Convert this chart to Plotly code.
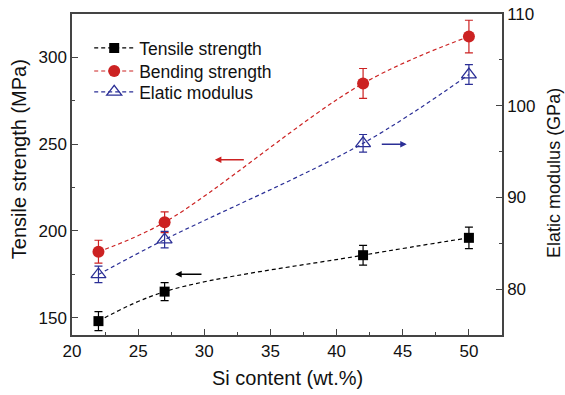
import plotly.graph_objects as go

si = [22, 27, 42, 50]
tensile = [148, 165, 186, 196]
tensile_err = [5.5, 5.2, 5.7, 6.2]
bending = [188, 205, 285, 312]
bending_err = [6.6, 6.0, 8.6, 9.4]
modulus = [81.6, 85.4, 95.9, 103.4]
modulus_err = [0.9, 0.9, 0.96, 1.07]

BLACK = "#000000"
RED = "#cc2222"
BLUE = "#2b2f96"
AX = "#444444"
FONT = "Liberation Sans, Arial, sans-serif"
DASH = "4px,3px"

fig = go.Figure()
fig.add_trace(go.Scatter(
    x=si, y=tensile, name="Tensile strength", mode="lines+markers", legend="legend",
    line=dict(color=BLACK, width=1.2, dash=DASH, shape="spline"),
    marker=dict(symbol="square", size=10, color=BLACK),
    error_y=dict(type="data", array=tensile_err, color=BLACK, thickness=1.2, width=4),
))
fig.add_trace(go.Scatter(
    x=si, y=bending, name="Bending strength", mode="lines+markers", legend="legend2",
    line=dict(color=RED, width=1.2, dash=DASH, shape="spline"),
    marker=dict(symbol="circle", size=12, color=RED),
    error_y=dict(type="data", array=bending_err, color=RED, thickness=1.2, width=4),
))
fig.add_trace(go.Scatter(
    x=si, y=modulus, name="Elatic modulus", mode="lines+markers", yaxis="y2", legend="legend3",
    line=dict(color=BLUE, width=1.2, dash=DASH, shape="spline"),
    marker=dict(symbol="triangle-up-open", size=13, color=BLUE, line=dict(width=1.3)),
    error_y=dict(type="data", array=modulus_err, color=BLUE, thickness=1.2, width=4),
))

# direction arrows (head, tail)
fig.add_annotation(x=30.8, y=241, xref="x", yref="y", ax=33.1, ay=241, axref="x", ayref="y",
                   showarrow=True, arrowhead=2, arrowsize=1, arrowwidth=1.3, arrowcolor=RED, text="")
fig.add_annotation(x=27.8, y=175, xref="x", yref="y", ax=29.9, ay=175, axref="x", ayref="y",
                   showarrow=True, arrowhead=2, arrowsize=1, arrowwidth=1.3, arrowcolor=BLACK, text="")
fig.add_annotation(x=45.3, y=95.8, xref="x", yref="y2", ax=43.3, ay=95.8, axref="x", ayref="y2",
                   showarrow=True, arrowhead=2, arrowsize=1, arrowwidth=1.3, arrowcolor=BLUE, text="")

# axis titles
fig.add_annotation(text="Tensile strength (MPa)", xref="paper", yref="paper", x=-0.123, y=0.548,
                   xanchor="center", yanchor="middle", textangle=-90, showarrow=False,
                   font=dict(size=20, color="#111111"))
fig.add_annotation(text="Elatic modulus (GPa)", xref="paper", yref="paper", x=1.121, y=0.505,
                   xanchor="center", yanchor="middle", textangle=-90, showarrow=False,
                   font=dict(size=18, color="#111111"))
fig.add_annotation(text="Si content (wt.%)", xref="paper", yref="paper", x=0.5, y=-0.134,
                   xanchor="center", yanchor="middle", showarrow=False,
                   font=dict(size=20, color="#111111"))

leg = dict(x=0.04, xanchor="left", yanchor="middle", bgcolor="rgba(0,0,0,0)",
           font=dict(size=17.5, color="#111111"), itemwidth=40)

fig.update_layout(
    width=565, height=395,
    margin=dict(l=72, r=63, t=14, b=60, autoexpand=False),
    paper_bgcolor="white", plot_bgcolor="white",
    font=dict(family=FONT, size=17, color="#111111"),
    showlegend=True,
    legend=dict(leg, y=0.894),
    legend2=dict(leg, y=0.822),
    legend3=dict(leg, y=0.757),
    xaxis=dict(
        range=[20, 52.5], tickvals=[20, 25, 30, 35, 40, 45, 50], automargin=False,
        ticks="inside", ticklen=6, tickwidth=1.2, tickcolor=AX,
        minor=dict(tickvals=[22.5, 27.5, 32.5, 37.5, 42.5, 47.5], ticks="inside", ticklen=3, tickcolor=AX),
        showline=True, linecolor=AX, linewidth=1.5, mirror=True,
        showgrid=False, zeroline=False,
    ),
    yaxis=dict(
        range=[140, 325], tickvals=[150, 200, 250, 300], automargin=False,
        ticks="inside", ticklen=6, tickwidth=1.2, tickcolor=AX,
        minor=dict(tickvals=[175, 225, 275], ticks="inside", ticklen=3, tickcolor=AX),
        showline=True, linecolor=AX, linewidth=1.5,
        showgrid=False, zeroline=False,
    ),
    yaxis2=dict(
        range=[75, 110], tickvals=[80, 90, 100, 110], overlaying="y", side="right",
        automargin=False,
        ticks="inside", ticklen=6, tickwidth=1.2, tickcolor=AX,
        minor=dict(tickvals=[85, 95, 105], ticks="inside", ticklen=3, tickcolor=AX),
        showline=True, linecolor=AX, linewidth=1.5,
        showgrid=False, zeroline=False,
    ),
)

fig.write_html("out.html")
